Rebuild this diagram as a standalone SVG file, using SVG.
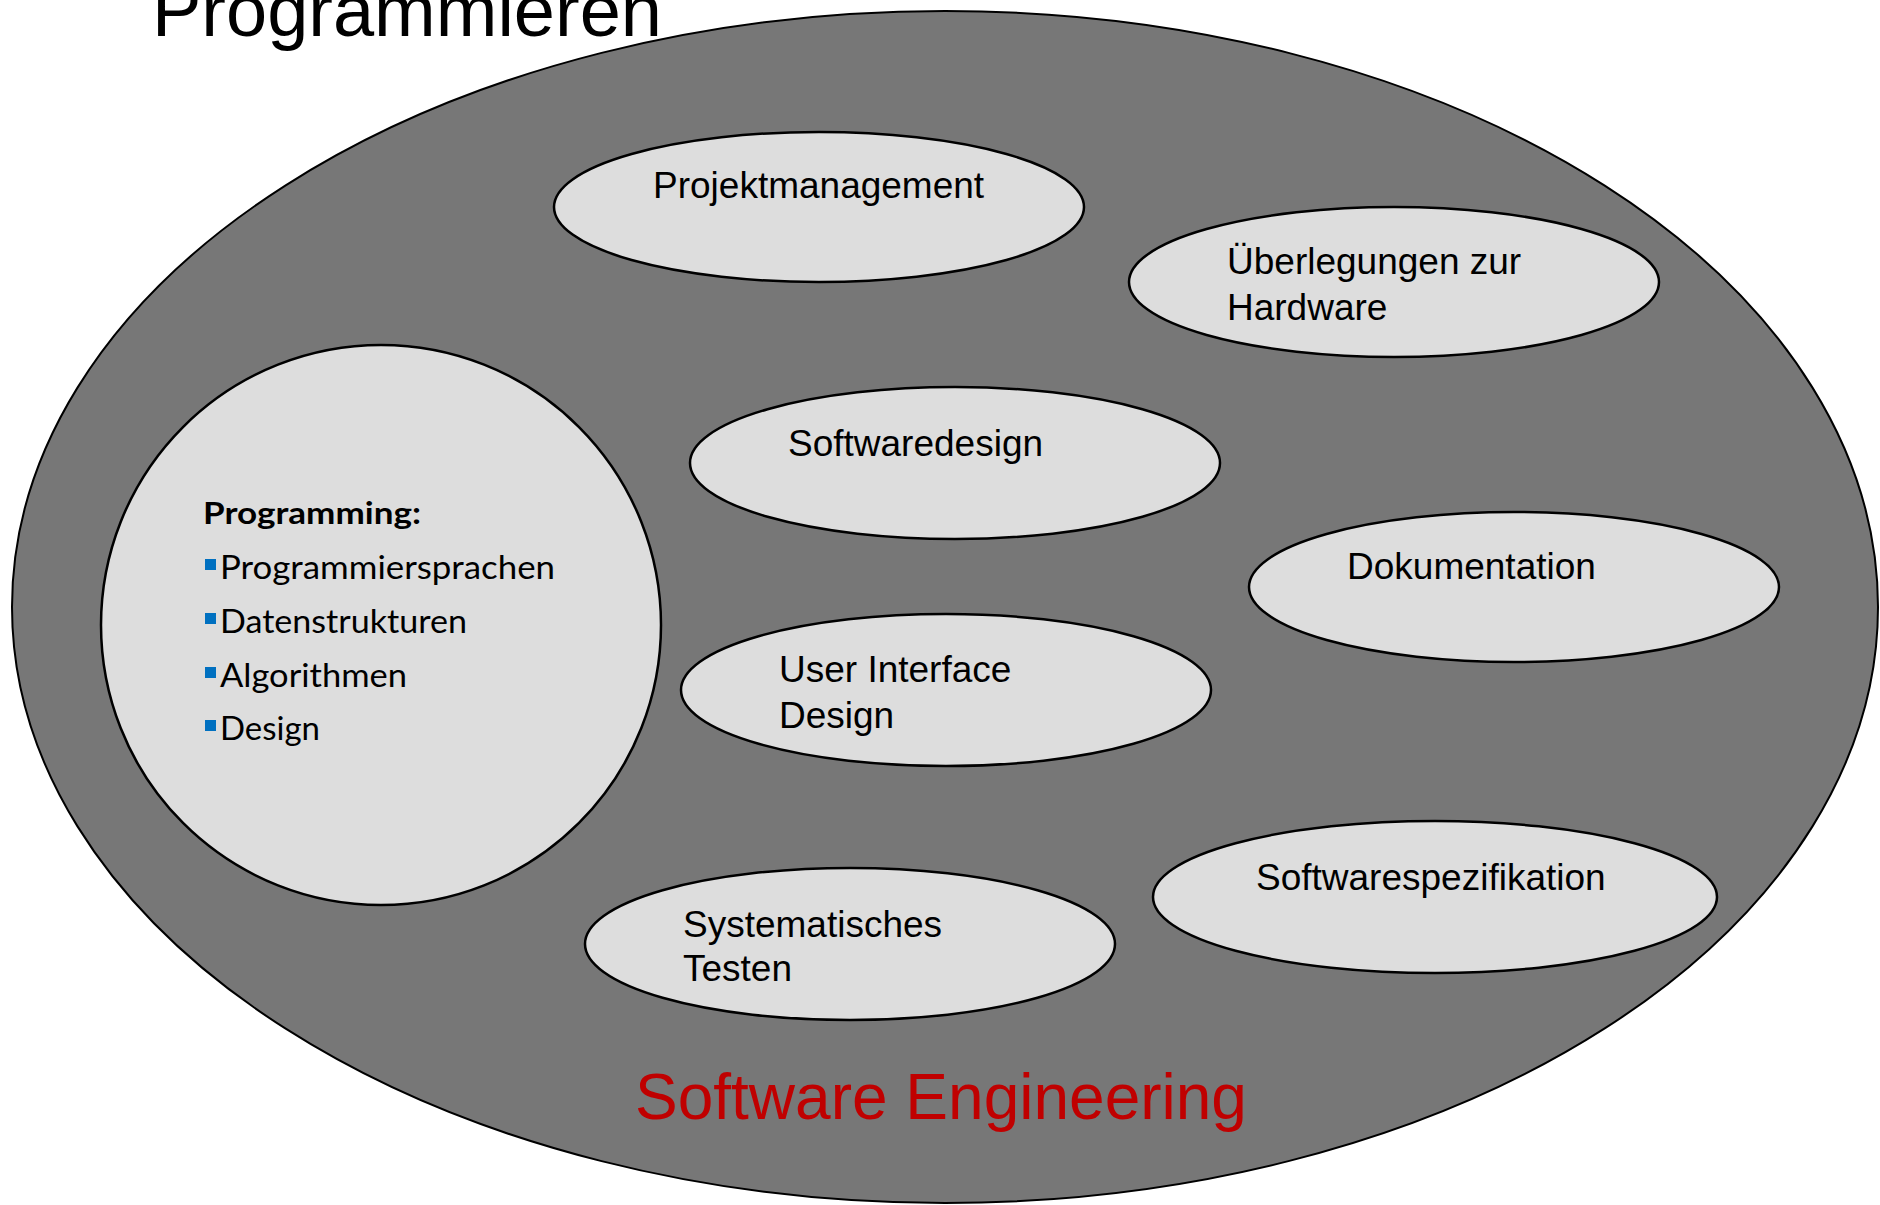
<svg xmlns="http://www.w3.org/2000/svg" width="1880" height="1205" viewBox="0 0 1880 1205">
<style>
.outer{fill:#777777;stroke:#000;stroke-width:2}
.inner{fill:#DDDDDD;stroke:#000;stroke-width:2.5}
.lbl{font-family:"Liberation Sans",Arial,sans-serif;font-size:37px;fill:#000}
.prog{font-family:Lato,"Open Sans",sans-serif;fill:#000}
.bul{fill:#0070C0}
</style>
<rect width="1880" height="1205" fill="#ffffff"/>
<g id="title">
<text x="152" y="36" font-family="Liberation Sans, Arial, sans-serif" font-size="74" fill="#000">Programmieren</text>
</g>
<g id="software-engineering">
<ellipse class="outer" cx="945" cy="607" rx="933" ry="596"/>
<text x="635" y="1119" font-family="Liberation Sans, Arial, sans-serif" font-size="64" fill="#C00000">Software Engineering</text>
</g>
<g id="connectors"></g>
<g id="projektmanagement">
<ellipse class="inner" cx="819" cy="207" rx="265" ry="75"/>
<text class="lbl" x="653" y="198">Projektmanagement</text>
</g>
<g id="hardware">
<ellipse class="inner" cx="1394" cy="282" rx="265" ry="75"/>
<text class="lbl" x="1227" y="274">Überlegungen zur</text>
<text class="lbl" x="1227" y="320">Hardware</text>
</g>
<g id="softwaredesign">
<ellipse class="inner" cx="955" cy="463" rx="265" ry="76"/>
<text class="lbl" x="788" y="456">Softwaredesign</text>
</g>
<g id="dokumentation">
<ellipse class="inner" cx="1514" cy="587" rx="265" ry="75"/>
<text class="lbl" x="1347" y="579">Dokumentation</text>
</g>
<g id="ui-design">
<ellipse class="inner" cx="946" cy="690" rx="265" ry="76"/>
<text class="lbl" x="779" y="682">User Interface</text>
<text class="lbl" x="779" y="728">Design</text>
</g>
<g id="testen">
<ellipse class="inner" cx="850" cy="944" rx="265" ry="76"/>
<text class="lbl" x="683" y="937">Systematisches</text>
<text class="lbl" x="683" y="981">Testen</text>
</g>
<g id="spezifikation">
<ellipse class="inner" cx="1435" cy="897" rx="282" ry="76"/>
<text class="lbl" x="1256" y="890">Softwarespezifikation</text>
</g>
<g id="programming">
<circle class="inner" cx="381" cy="625" r="280"/>
<text class="prog" x="203" y="524" font-size="30" font-weight="bold" textLength="218" lengthAdjust="spacingAndGlyphs">Programming:</text>
<rect class="bul" x="205" y="559" width="11" height="11"/>
<text class="prog" x="220" y="579" font-size="32" textLength="335" lengthAdjust="spacingAndGlyphs">Programmiersprachen</text>
<rect class="bul" x="205" y="613" width="11" height="11"/>
<text class="prog" x="220" y="633" font-size="32" textLength="247" lengthAdjust="spacingAndGlyphs">Datenstrukturen</text>
<rect class="bul" x="205" y="667" width="11" height="11"/>
<text class="prog" x="220" y="687" font-size="32" textLength="187" lengthAdjust="spacingAndGlyphs">Algorithmen</text>
<rect class="bul" x="205" y="720" width="11" height="11"/>
<text class="prog" x="220" y="740" font-size="32" textLength="100" lengthAdjust="spacingAndGlyphs">Design</text>
</g>
</svg>
